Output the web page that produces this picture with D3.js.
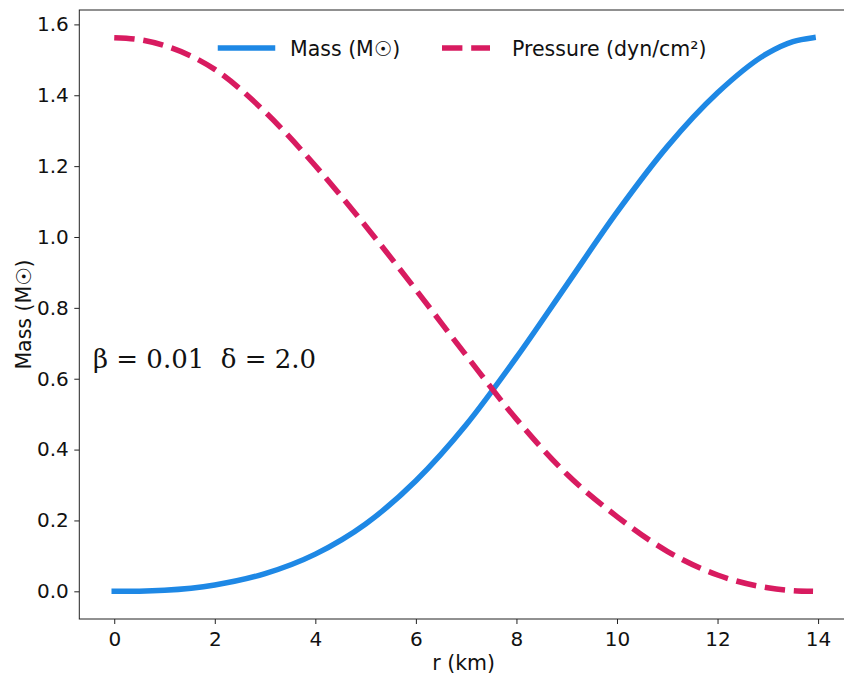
<!DOCTYPE html>
<html>
<head>
<meta charset="utf-8">
<script src="https://cdn.jsdelivr.net/npm/d3@7"></script>
<style>
  html, body { margin: 0; padding: 0; background: #ffffff; overflow: hidden; }
  svg { display: block; }
</style>
</head>
<body>
<svg id="chart" width="844" height="678"></svg>
<script>
// ---- data ----
const radius   = [0, 0.5, 1, 2, 3, 4, 5, 6, 7, 8, 9, 10, 11, 12, 13, 13.5, 13.9];
const mass     = [0, 0.0005, 0.003, 0.018, 0.050, 0.105, 0.190, 0.312, 0.470, 0.660, 0.865, 1.070, 1.255, 1.407, 1.519, 1.5515, 1.5625];
const pressure = [1.5625, 1.557, 1.540, 1.473, 1.353, 1.201, 1.031, 0.851, 0.666, 0.486, 0.331, 0.211, 0.113, 0.046, 0.010, 0.002, 0];
const xTicks = [0, 2, 4, 6, 8, 10, 12, 14];
const yTicks = [0.0, 0.2, 0.4, 0.6, 0.8, 1.0, 1.2, 1.4, 1.6];
const seriesNames = ["Mass (M\u2609)", "Pressure (dyn/cm\u00B2)"];
const xLabel = "r (km)";
const yLabel = "Mass (M\u2609)";
const annotation = "\u03B2 = 0.01  \u03B4 = 2.0";

// ---- layout ----
const mLeft = 79.3, mRight = 848, mTop = 10, mBottom = 619;
const blue = "#1E88E5", pink = "#D81B60";
const font = "'DejaVu Sans', sans-serif";

const svg = d3.select("#chart");

const x = d3.scaleLinear().domain([-0.695, 14.595]).range([mLeft, mRight]);
const y = d3.scaleLinear().domain([-0.078125, 1.640625]).range([mBottom, mTop]);

// axes
const xAxis = svg.append("g")
  .attr("transform", `translate(0,${mBottom})`)
  .call(d3.axisBottom(x).tickValues(xTicks).tickFormat(d3.format("d")).tickSizeInner(5).tickSizeOuter(0).tickPadding(7.5));
const yAxis = svg.append("g")
  .attr("transform", `translate(${mLeft},0)`)
  .call(d3.axisLeft(y).tickValues(yTicks).tickFormat(d3.format(".1f")).tickSizeInner(5).tickSizeOuter(0).tickPadding(5.5));

[xAxis, yAxis].forEach(g => {
  g.select(".domain").remove();
  g.selectAll(".tick line").attr("stroke", "#222").attr("stroke-width", 1);
  g.selectAll(".tick text").attr("fill", "#111").style("font-family", font).style("font-size", "20px");
});

// frame (spines)
svg.append("rect")
  .attr("x", mLeft).attr("y", mTop)
  .attr("width", mRight - mLeft).attr("height", mBottom - mTop)
  .attr("fill", "none").attr("stroke", "#222").attr("stroke-width", 1);

// lines
const pts = (vals) => radius.map((r, i) => [r, vals[i]]);
const line = d3.line().x(d => x(d[0])).y(d => y(d[1])).curve(d3.curveMonotoneX);

svg.append("path")
  .datum(pts(mass))
  .attr("d", line)
  .attr("fill", "none")
  .attr("stroke", blue)
  .attr("stroke-width", 5.5)
  .attr("stroke-linecap", "square")
  .attr("stroke-linejoin", "round");

svg.append("path")
  .datum(pts(pressure))
  .attr("d", line)
  .attr("fill", "none")
  .attr("stroke", pink)
  .attr("stroke-width", 5.5)
  .attr("stroke-dasharray", "20.4,8.8")
  .attr("stroke-linecap", "butt");

// legend
const leg = svg.append("g");
leg.append("line").attr("x1", 220.5).attr("x2", 272.5).attr("y1", 48).attr("y2", 48)
  .attr("stroke", blue).attr("stroke-width", 5.5).attr("stroke-linecap", "square");
leg.append("text").attr("x", 290).attr("y", 55.5).text(seriesNames[0])
  .style("font-family", font).style("font-size", "20.5px").attr("fill", "#111");
leg.append("line").attr("x1", 442).attr("x2", 490).attr("y1", 48).attr("y2", 48)
  .attr("stroke", pink).attr("stroke-width", 5.5).attr("stroke-dasharray", "20.4,8.8");
leg.append("text").attr("x", 512).attr("y", 55.5).text(seriesNames[1])
  .style("font-family", font).style("font-size", "20.5px").attr("fill", "#111");

// axis labels
svg.append("text")
  .attr("x", (mLeft + mRight) / 2).attr("y", 670)
  .attr("text-anchor", "middle")
  .style("font-family", font).style("font-size", "20.5px").attr("fill", "#111")
  .text(xLabel);
svg.append("text")
  .attr("transform", `translate(31,${(mTop + mBottom) / 2}) rotate(-90)`)
  .attr("text-anchor", "middle")
  .style("font-family", font).style("font-size", "20.5px").attr("fill", "#111")
  .text(yLabel);

// annotation
svg.append("text")
  .attr("x", 93).attr("y", 368)
  .attr("xml:space", "preserve")
  .style("white-space", "pre")
  .style("font-family", "'DejaVu Serif', serif").style("font-size", "26px").attr("fill", "#111")
  .text(annotation);
</script>
</body>
</html>
